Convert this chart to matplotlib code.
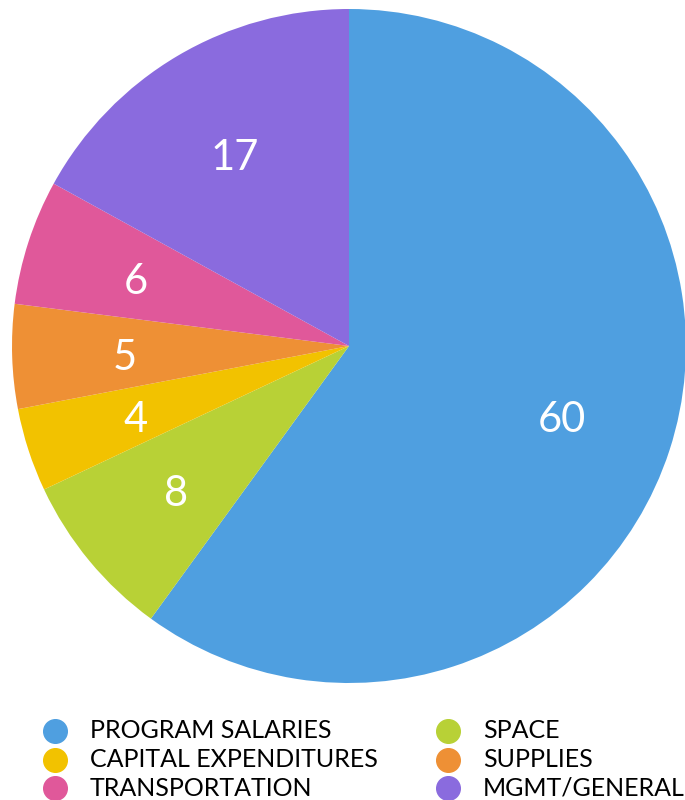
import matplotlib.pyplot as plt
from matplotlib.lines import Line2D

categories = ["PROGRAM SALARIES", "SPACE", "CAPITAL EXPENDITURES", "SUPPLIES",
              "TRANSPORTATION", "MGMT/GENERAL"]
values = [60, 8, 4, 5, 6, 17]
colors = ["#4f9fe0", "#b8d136", "#f2c200", "#ee9035", "#e0589a", "#8a6bde"]

plt.rcParams['font.family'] = ['Lato', 'DejaVu Sans']

W, H = 685, 800
fig = plt.figure(figsize=(W / 100, H / 100), dpi=100)
ax = fig.add_axes([0.0175, 0.14625, 0.984, 0.8425])
wedges, texts = ax.pie(values, colors=colors, startangle=90, counterclock=False,
                       labels=[str(v) for v in values], labeldistance=0.665,
                       textprops=dict(color="white", fontsize=30))
for t in texts:
    x, y = t.get_position()
    t.set_position((x, y - 0.015))
    t.set_horizontalalignment("center")
    t.set_verticalalignment("center")
ax.set_xlim(-1, 1)
ax.set_ylim(-1, 1)

# legend drawn by hand, two per row, in pixel positions from the top left
col_x = [55, 448]
row_y = [731, 759.5, 788]
for i, (name, c) in enumerate(zip(categories, colors)):
    cx = col_x[i % 2] / W
    cy = 1 - row_y[i // 2] / H
    fig.add_artist(Line2D([cx], [cy], marker="o", markersize=17, linestyle="",
                          markerfacecolor=c, markeredgecolor=c,
                          transform=fig.transFigure))
    fig.text(cx + 35 / W, cy, name, fontsize=18, color="black",
             ha="left", va="center")

fig.savefig("out.png", dpi=100)
